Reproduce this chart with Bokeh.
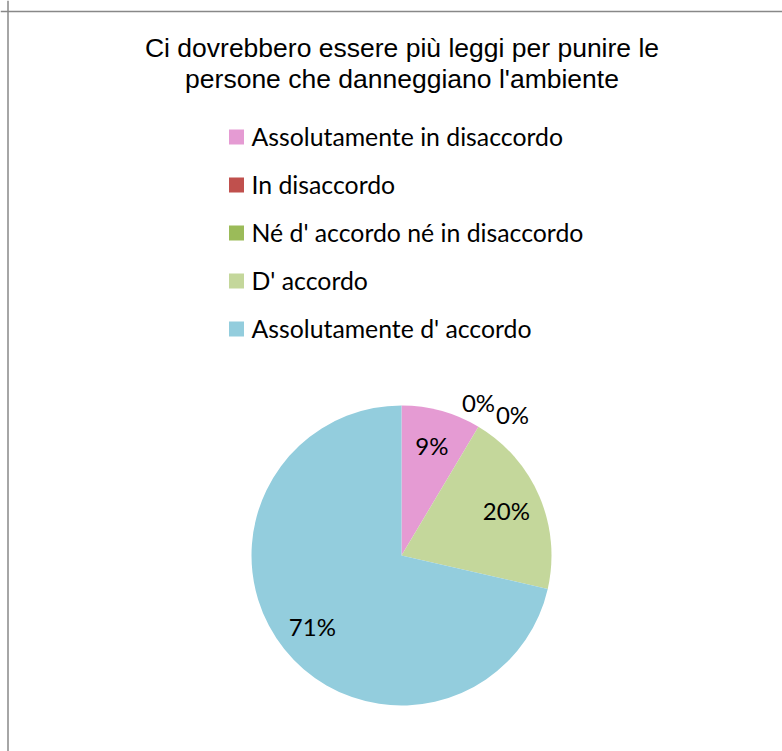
import math
from bokeh.plotting import figure
from bokeh.models import Range1d, Span, ColumnDataSource
from bokeh.core.properties import value
from bokeh.embed import file_html
from bokeh.resources import INLINE

# ---- data ----
title_lines = ["Ci dovrebbero essere più leggi per punire le",
               "persone che danneggiano l'ambiente"]
categories = ["Assolutamente in disaccordo", "In disaccordo",
              "Né d' accordo né in disaccordo", "D' accordo",
              "Assolutamente d' accordo"]
counts = [3, 0, 0, 7, 25]
colors = ["#E59BD3", "#C0504D", "#9BBB59", "#C4D79B", "#93CDDD"]

# ---- layout / style ----
W, H = 782, 751
CX, CY, R = 401, 196, 150
LABEL_FONT = "Lato"
TITLE_FONT = "Liberation Sans"
zero_label_offsets = [(-11.5, -5), (22.5, 7)]

total = sum(counts)
fracs = [c / total for c in counts]
starts, ends, cum = [], [], 0.0
for f in fracs:
    starts.append(math.pi / 2 - 2 * math.pi * cum)
    cum += f
    ends.append(math.pi / 2 - 2 * math.pi * cum)

p = figure(width=W, height=H, x_range=Range1d(0, W), y_range=Range1d(0, H),
           output_backend="svg", toolbar_location=None, min_border=0,
           background_fill_color="white", border_fill_color="white")
p.axis.visible = False
p.grid.visible = False
p.outline_line_color = None

# border of chart area
p.add_layout(Span(location=7.5, dimension="height", line_color="#888888", line_width=1.5))
p.add_layout(Span(location=H - 11, dimension="width", line_color="#888888", line_width=1.5))

# pie (only non-empty slices get a wedge)
nz = [i for i, c in enumerate(counts) if c > 0]
src = ColumnDataSource(dict(x=[CX] * len(nz), y=[CY] * len(nz),
                            start=[starts[i] for i in nz], end=[ends[i] for i in nz],
                            color=[colors[i] for i in nz], cat=[categories[i] for i in nz]))
p.wedge(x="x", y="y", radius=R, start_angle="start", end_angle="end",
        direction="clock", fill_color="color", line_color=None, source=src)

# data labels
lx, ly, ltxt, xo, yo = [], [], [], [], []
zi = 0
for i, c in enumerate(counts):
    mid = (starts[i] + ends[i]) / 2
    pct = f"{round(100 * c / total)}%"
    if c > 0:
        rr = 0.76 * R
        lx.append(CX + rr * math.cos(mid)); ly.append(CY + rr * math.sin(mid))
        xo.append(0); yo.append(0)
    else:
        rr = 1.15 * R
        lx.append(CX + rr * math.cos(mid)); ly.append(CY + rr * math.sin(mid))
        xo.append(zero_label_offsets[zi][0]); yo.append(zero_label_offsets[zi][1])
        zi += 1
    ltxt.append(pct)
p.text(x=lx, y=ly, text=ltxt, x_offset=xo, y_offset=yo, text_font=value(LABEL_FONT),
       text_font_size="24px", text_align="center", text_baseline="middle",
       text_color="black")

# title
p.text(x=[401.5] * 2, y=[H - 47, H - 78], text=title_lines, text_font=value(TITLE_FONT),
       text_font_size="26.5px", text_align="center", text_baseline="alphabetic",
       text_color="black")

# legend
n = len(categories)
p.rect(x=[236] * n, y=[H - 136.5 - 48 * i for i in range(n)], width=15, height=15,
       fill_color=colors, line_color=None)
p.text(x=[251] * n, y=[H - 136.3 - 48 * i for i in range(n)], text=categories,
       text_font=value(LABEL_FONT), text_font_size="24.8px", text_align="left",
       text_baseline="alphabetic", text_color="black")

open("out.html", "w").write(file_html(p, INLINE))
